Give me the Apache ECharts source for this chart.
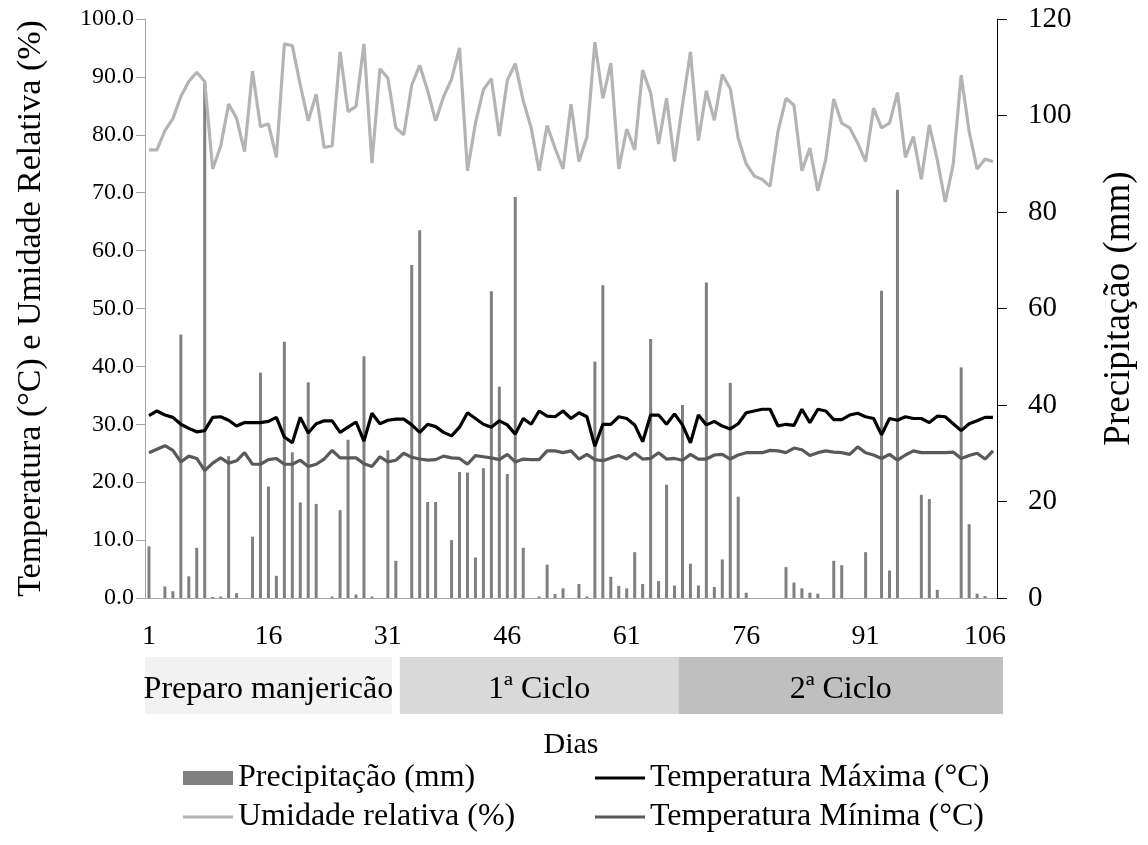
<!DOCTYPE html>
<html>
<head>
<meta charset="utf-8">
<script src="https://cdn.jsdelivr.net/npm/echarts@6/dist/echarts.min.js"></script>
<style>html,body{margin:0;padding:0;background:#fff}#c{width:1148px;height:845px}</style>
</head>
<body>
<div id="c"></div>
<script>
// ---------- DATA ----------
const days = Array.from({length: 107}, (_, i) => String(i + 1));

const precipitacao = [
  10.7, 0, 2.4, 1.4, 54.6, 4.5, 10.4, 106.8, 0.2, 0.3,
  29.4, 1.0, 0, 12.7, 46.7, 23.1, 4.6, 53.1, 30.2, 19.8,
  44.7, 19.5, 0, 0.3, 18.2, 32.8, 0.7, 50.1, 0.3, 0,
  30.6, 7.7, 0, 69.0, 76.2, 19.9, 19.9, 0, 12.0, 26.1,
  26.0, 8.4, 26.9, 63.6, 43.8, 25.7, 83.1, 10.4, 0, 0.3,
  6.9, 0.8, 2.0, 0, 2.9, 0.3, 49.0, 64.8, 4.4, 2.5,
  2.0, 9.5, 2.9, 53.7, 3.5, 23.5, 2.6, 40.0, 7.1, 2.6,
  65.4, 2.3, 8.0, 44.6, 21.0, 1.1, 0, 0, 0, 0,
  6.4, 3.2, 2.0, 1.1, 0.9, 0, 7.7, 6.8, 0, 0,
  9.5, 0, 63.7, 5.7, 84.6, 0, 0, 21.4, 20.5, 1.7,
  0, 0, 47.8, 15.3, 0.9, 0.4, 0
];

const umidade = [
  77.4, 77.4, 80.7, 82.8, 86.6, 89.2, 90.8, 89.2, 74.1, 78.0,
  85.3, 82.9, 77.1, 91.0, 81.4, 81.9, 76.1, 95.7, 95.4, 88.6,
  82.4, 87.0, 77.8, 78.1, 94.3, 84.0, 84.9, 95.7, 75.1, 91.4,
  89.8, 81.2, 80.0, 88.6, 92.0, 87.6, 82.4, 86.6, 89.6, 95.0,
  73.8, 82.0, 87.8, 89.7, 79.8, 89.4, 92.3, 85.9, 81.2, 73.8,
  81.6, 77.7, 74.1, 85.3, 75.4, 79.6, 96.0, 86.3, 92.4, 74.1,
  81.0, 77.4, 91.2, 87.2, 78.4, 86.3, 75.4, 85.2, 94.3, 79.0,
  87.6, 82.5, 90.4, 88.0, 79.4, 75.0, 72.9, 72.3, 71.1, 80.6,
  86.3, 85.1, 73.8, 77.7, 70.3, 75.8, 86.2, 82.0, 81.2, 78.6,
  75.4, 84.6, 81.2, 82.0, 87.3, 76.1, 79.7, 72.3, 81.7, 75.7,
  68.4, 74.9, 90.3, 80.6, 74.1, 75.8, 75.4
];

const tempMax = [
  31.5, 32.3, 31.6, 31.2, 30.0, 29.3, 28.7, 28.9, 31.2, 31.3,
  30.7, 29.7, 30.3, 30.3, 30.3, 30.5, 31.2, 27.8, 26.8, 31.2,
  28.5, 30.1, 30.6, 30.6, 28.6, 29.5, 30.4, 27.1, 31.9, 30.1,
  30.7, 30.9, 30.9, 29.9, 28.6, 30.0, 29.6, 28.6, 28.0, 29.5,
  32.0, 31.0, 30.0, 29.5, 30.6, 29.9, 28.3, 31.0, 30.0, 32.3,
  31.4, 31.3, 32.3, 31.0, 32.0, 31.3, 26.2, 30.0, 30.0, 31.3,
  31.0, 29.9, 27.0, 31.6, 31.6, 30.0, 31.8, 29.9, 26.8, 31.6,
  29.9, 30.5, 29.7, 29.2, 30.1, 32.0, 32.3, 32.6, 32.6, 29.7,
  30.0, 29.8, 32.6, 30.3, 32.6, 32.3, 30.8, 30.8, 31.6, 31.9,
  31.3, 31.0, 28.2, 31.0, 30.7, 31.3, 31.0, 31.0, 30.3, 31.4,
  31.3, 30.1, 28.9, 30.1, 30.6, 31.2, 31.2
];

const tempMin = [
  25.1, 25.7, 26.3, 25.5, 23.5, 24.5, 24.1, 22.0, 23.3, 24.2,
  23.3, 23.7, 25.1, 23.1, 23.1, 23.9, 24.1, 23.1, 23.1, 23.8,
  22.7, 23.1, 24.0, 25.5, 24.2, 24.2, 24.2, 23.2, 22.7, 24.4,
  23.5, 23.8, 25.0, 24.3, 24.0, 23.8, 23.9, 24.5, 24.2, 24.1,
  23.1, 24.6, 24.4, 24.2, 23.9, 24.8, 23.5, 24.0, 23.9, 23.9,
  25.4, 25.4, 25.1, 25.4, 24.0, 24.8, 23.9, 23.7, 24.2, 24.6,
  24.0, 25.0, 24.0, 24.1, 25.1, 24.0, 24.1, 23.8, 24.8, 24.0,
  24.0, 24.7, 24.8, 24.0, 24.7, 25.1, 25.1, 25.1, 25.5, 25.4,
  25.1, 25.9, 25.6, 24.6, 25.1, 25.4, 25.2, 25.1, 24.8, 26.1,
  25.1, 24.7, 24.1, 24.8, 23.8, 24.7, 25.4, 25.1, 25.1, 25.1,
  25.1, 25.2, 24.1, 24.6, 25.0, 24.0, 25.4
];

const phaseLabels = ['Preparo manjericão', '1ª Ciclo', '2ª Ciclo'];
const phaseStart = ['1', '33', '68'];
const phaseEnd = ['31', '67', '107'];
const phaseColors = ['#f2f2f2', '#d9d9d9', '#bfbfbf'];

// ---------- CHART ----------
const FONT = '"Liberation Serif", "Times New Roman", serif';
const chart = echarts.init(document.getElementById('c'), null, {renderer: 'canvas'});

function legendFor(name, left, top, h) {
  return {
    data: [{name: name, icon: 'rect'}],
    orient: 'vertical', left: left, top: top,
    itemWidth: 50, itemHeight: h, padding: 0,
    textStyle: {fontFamily: FONT, fontSize: 32, color: '#000'}
  };
}

const option = {
  backgroundColor: '#ffffff',
  animation: false,
  textStyle: {fontFamily: FONT, color: '#000'},
  grid: {left: 145, right: 151, top: 19, bottom: 247, containLabel: false},
  legend: [
    legendFor('Precipitação (mm)', 183, 762, 14),
    legendFor('Umidade relativa (%)', 183, 801, 3),
    legendFor('Temperatura Máxima (°C)', 595, 762, 3),
    legendFor('Temperatura Mínima (°C)', 595, 801, 3)
  ],
  xAxis: {
    type: 'category', data: days, boundaryGap: true,
    axisLine: {lineStyle: {color: '#a6a6a6', width: 1}},
    axisTick: {show: false},
    axisLabel: {interval: 14, fontFamily: FONT, fontSize: 28, color: '#000', margin: 25},
    name: 'Dias', nameLocation: 'middle', nameGap: 132,
    nameTextStyle: {fontFamily: FONT, fontSize: 30, color: '#000'}
  },
  yAxis: [
    {
      type: 'value', min: 0, max: 100, interval: 10,
      axisLine: {show: true, lineStyle: {color: '#a6a6a6'}},
      axisTick: {show: true, length: 9, lineStyle: {color: '#a6a6a6'}},
      splitLine: {show: false},
      axisLabel: {formatter: v => v.toFixed(1), fontFamily: FONT, fontSize: 24, color: '#000', margin: 11},
      name: 'Temperatura (°C) e Umidade Relativa (%)', nameLocation: 'middle', nameGap: 97, nameRotate: 90,
      nameTextStyle: {fontFamily: FONT, fontSize: 34, color: '#000'}
    },
    {
      type: 'value', min: 0, max: 120, interval: 20, position: 'right',
      axisLine: {show: true, lineStyle: {color: '#000'}},
      axisTick: {show: true, length: 10, lineStyle: {color: '#000'}},
      splitLine: {show: false},
      axisLabel: {fontFamily: FONT, fontSize: 29, color: '#000', margin: 31},
      name: 'Precipitação (mm)', nameLocation: 'middle', nameGap: 104, nameRotate: 90,
      nameTextStyle: {fontFamily: FONT, fontSize: 37, color: '#000'}
    }
  ],
  series: [
    {
      name: 'Precipitação (mm)', type: 'bar', yAxisIndex: 1, data: precipitacao,
      barWidth: 3, itemStyle: {color: '#808080'}, z: 1
    },
    {
      name: 'Umidade relativa (%)', type: 'line', yAxisIndex: 0, data: umidade,
      symbol: 'none', lineStyle: {color: '#b4b4b4', width: 3.2}, itemStyle: {color: '#b4b4b4'}, z: 2
    },
    {
      name: 'Temperatura Máxima (°C)', type: 'line', yAxisIndex: 0, data: tempMax,
      symbol: 'none', lineStyle: {color: '#000000', width: 3.2}, itemStyle: {color: '#000000'}, z: 3
    },
    {
      name: 'Temperatura Mínima (°C)', type: 'line', yAxisIndex: 0, data: tempMin,
      symbol: 'none', lineStyle: {color: '#595959', width: 3.2}, itemStyle: {color: '#595959'}, z: 3
    }
  ]
};
chart.setOption(option);

// phase boxes positioned from the category axis
const c1 = chart.convertToPixel({xAxisIndex: 0}, '1');
const c2 = chart.convertToPixel({xAxisIndex: 0}, '2');
const half = (c2 - c1) / 2;
const graphics = [];
for (let i = 0; i < phaseLabels.length; i++) {
  const x0 = chart.convertToPixel({xAxisIndex: 0}, phaseStart[i]) - half;
  let x1 = chart.convertToPixel({xAxisIndex: 0}, phaseEnd[i]) + half;
  if (i === phaseLabels.length - 1) x1 += 6;
  graphics.push({
    type: 'rect', shape: {x: x0, y: 657, width: x1 - x0, height: 57},
    style: {fill: phaseColors[i]}, silent: true
  });
  graphics.push({
    type: 'text', x: (x0 + x1) / 2, y: 690,
    style: {text: phaseLabels[i], font: '32px ' + FONT, fill: '#000', align: 'center', verticalAlign: 'middle'},
    silent: true
  });
}
chart.setOption({graphic: graphics});
</script>
</body>
</html>
